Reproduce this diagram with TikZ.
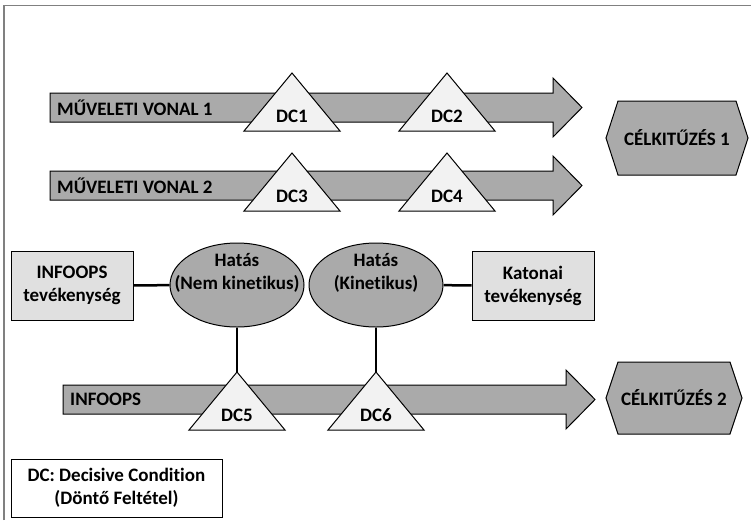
\documentclass[tikz,border=0pt]{standalone}
\usepackage{fontspec}
\setmainfont{Carlito}[Ligatures=NoCommon]
\usetikzlibrary{shapes.geometric}
\definecolor{frameGray}{RGB}{128,128,128}
\definecolor{arrowGray}{RGB}{170,170,170}
\definecolor{dcFill}{RGB}{242,242,242}
\definecolor{boxFill}{RGB}{224,224,224}
\tikzstyle{baseText} = [font=\fontsize{19}{23}\selectfont\bfseries]
\tikzstyle{lineArrowStyle} = [fill=arrowGray, draw=black, line width=1pt]
\tikzstyle{lineText} = [baseText, inner sep=0pt, anchor=west]
\tikzstyle{dcStyle} = [fill=dcFill, draw=black, line width=1pt]
\tikzstyle{dcText} = [baseText, inner sep=0pt]
\tikzstyle{goalStyle} = [fill=arrowGray, draw=black, line width=1pt]
\tikzstyle{effectStyle} = [ellipse, fill=arrowGray, draw=black, line width=1pt, inner sep=0pt, minimum width=134pt, minimum height=84pt]
\tikzstyle{activityStyle} = [baseText, fill=boxFill, draw=black, line width=1pt, align=center, minimum width=122pt, minimum height=69pt]
\tikzstyle{legendStyle} = [baseText, fill=white, draw=black, line width=1pt, align=center, minimum width=211pt, minimum height=58pt]
\tikzstyle{connector} = [draw=black, line width=2.5pt]
% #1 name, #2 x start, #3 x of head, #4 y middle, #5 text
\newcommand{\lineArrow}[5]{
  \filldraw [lineArrowStyle] (#2, #4 - 14.5) -- (#3, #4 - 14.5) -- (#3, #4 - 29.5) -- (#3 + 29, #4) -- (#3, #4 + 29.5) -- (#3, #4 + 14.5) -- (#2, #4 + 14.5) -- cycle;
  \node [lineText] (#1) at (#2 + 7, #4) {#5};
}
% #1 name, #2 x top, #3 y top, #4 text
\newcommand{\dcTriangle}[4]{
  \coordinate (#1Top) at (#2, #3);
  \filldraw [dcStyle] (#1Top) -- (#2 + 48, #3 + 58) -- (#2 - 48, #3 + 58) -- cycle;
  \node [dcText] (#1) at (#2, #3 + 43) {#4};
}
% #1 name, #2 x middle, #3 y middle, #4 half width, #5 half height, #6 text
\newcommand{\goalHexagon}[6]{
  \filldraw [goalStyle] (#2 - #4, #3) -- (#2 - #4 + 12, #3 - #5) -- (#2 + #4 - 12, #3 - #5) -- (#2 + #4, #3) -- (#2 + #4 - 12, #3 + #5) -- (#2 - #4 + 12, #3 + #5) -- cycle;
  \node [dcText] (#1) at (#2, #3) {#6};
}
\begin{document}
\begin{tikzpicture}[x=1pt, y=-1pt]
\useasboundingbox (0,0) rectangle (751,520);
\draw [frameGray, line width=1.3pt] (4,520) -- (4,5.5) -- (751,5.5);
\lineArrow{line1}{50}{553}{107.5}{MŰVELETI VONAL 1}
\lineArrow{line2}{50}{553}{185.5}{MŰVELETI VONAL 2}
\dcTriangle{dc1}{292}{73}{DC1}
\dcTriangle{dc2}{447}{73}{DC2}
\dcTriangle{dc3}{292}{153}{DC3}
\dcTriangle{dc4}{447}{153}{DC4}
\goalHexagon{goal1}{677}{138}{71}{37}{CÉLKITŰZÉS 1}
\node [activityStyle] (infoopsAct) at (72,285.5) {INFOOPS\\tevékenység};
\node [activityStyle] (militaryAct) at (533,285.5) {Katonai\\tevékenység};
\node [effectStyle] (nonKinetic) at (237,285) {};
\node [effectStyle] (kinetic) at (376,285) {};
\node [baseText, align=center] (nonKineticText) at (237,273) {Hatás\\(Nem kinetikus)};
\node [baseText, align=center] (kineticText) at (376,273) {Hatás\\(Kinetikus)};
\draw [connector] (infoopsAct) -- (nonKinetic);
\draw [connector] (kinetic) -- (militaryAct);
\lineArrow{line3}{63}{566}{399.5}{INFOOPS}
\dcTriangle{dc5}{237}{372}{DC5}
\dcTriangle{dc6}{376}{372}{DC6}
\draw [connector] (nonKinetic) -- (dc5Top);
\draw [connector] (kinetic) -- (dc6Top);
\goalHexagon{goal2}{674}{398}{68}{36}{CÉLKITŰZÉS 2}
\node [legendStyle] (legend) at (116.5,488) {DC: Decisive Condition\\(Döntő Feltétel)};
\end{tikzpicture}
\end{document}
